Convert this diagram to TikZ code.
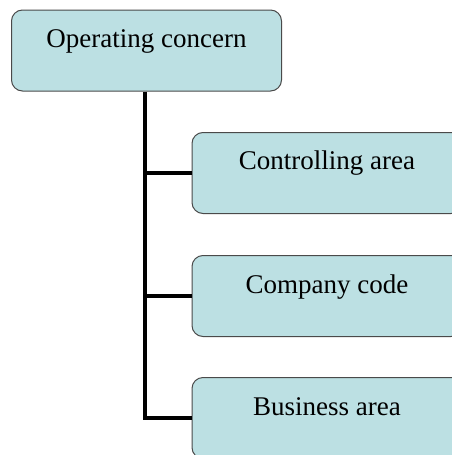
\documentclass[tikz,border=0pt]{standalone}
\usepackage{fontspec}
\setmainfont{Liberation Serif}
\definecolor{boxfill}{HTML}{BCE0E3}
\definecolor{boxline}{HTML}{4A4A4A}
\begin{document}
\begin{tikzpicture}[x=1pt,y=-1pt,
  box/.style={draw=boxline,line width=1pt,fill=boxfill,rounded corners=11pt,
    minimum width=270pt,minimum height=81pt,inner sep=0pt},
  lbl/.style={font=\fontsize{27}{32}\selectfont,inner sep=0pt,anchor=base},
  conn/.style={line width=4pt,black}]
\useasboundingbox (0,0) rectangle (452,455);
\clip (0,0) rectangle (452,455);
\node[box] (oc) at (146.5,50.5) {};
\node[box] (ca) at (327,173) {};
\node[box] (cc) at (327,296) {};
\node[box] (ba) at (327,418) {};
\node[lbl] (toc) at ([yshift=-38pt]oc.north) {Operating concern};
\node[lbl] (tca) at ([yshift=-37pt]ca.north) {Controlling area};
\node[lbl] (tcc) at ([yshift=-38pt]cc.north) {Company code};
\node[lbl] (tba) at ([yshift=-38pt]ba.north) {Business area};
\coordinate (top) at ([xshift=-1.5pt]oc.south);
\draw[conn] (top) |- (ba.west);
\draw[conn] (top |- ca.west) -- (ca.west);
\draw[conn] (top |- cc.west) -- (cc.west);
\end{tikzpicture}
\end{document}
